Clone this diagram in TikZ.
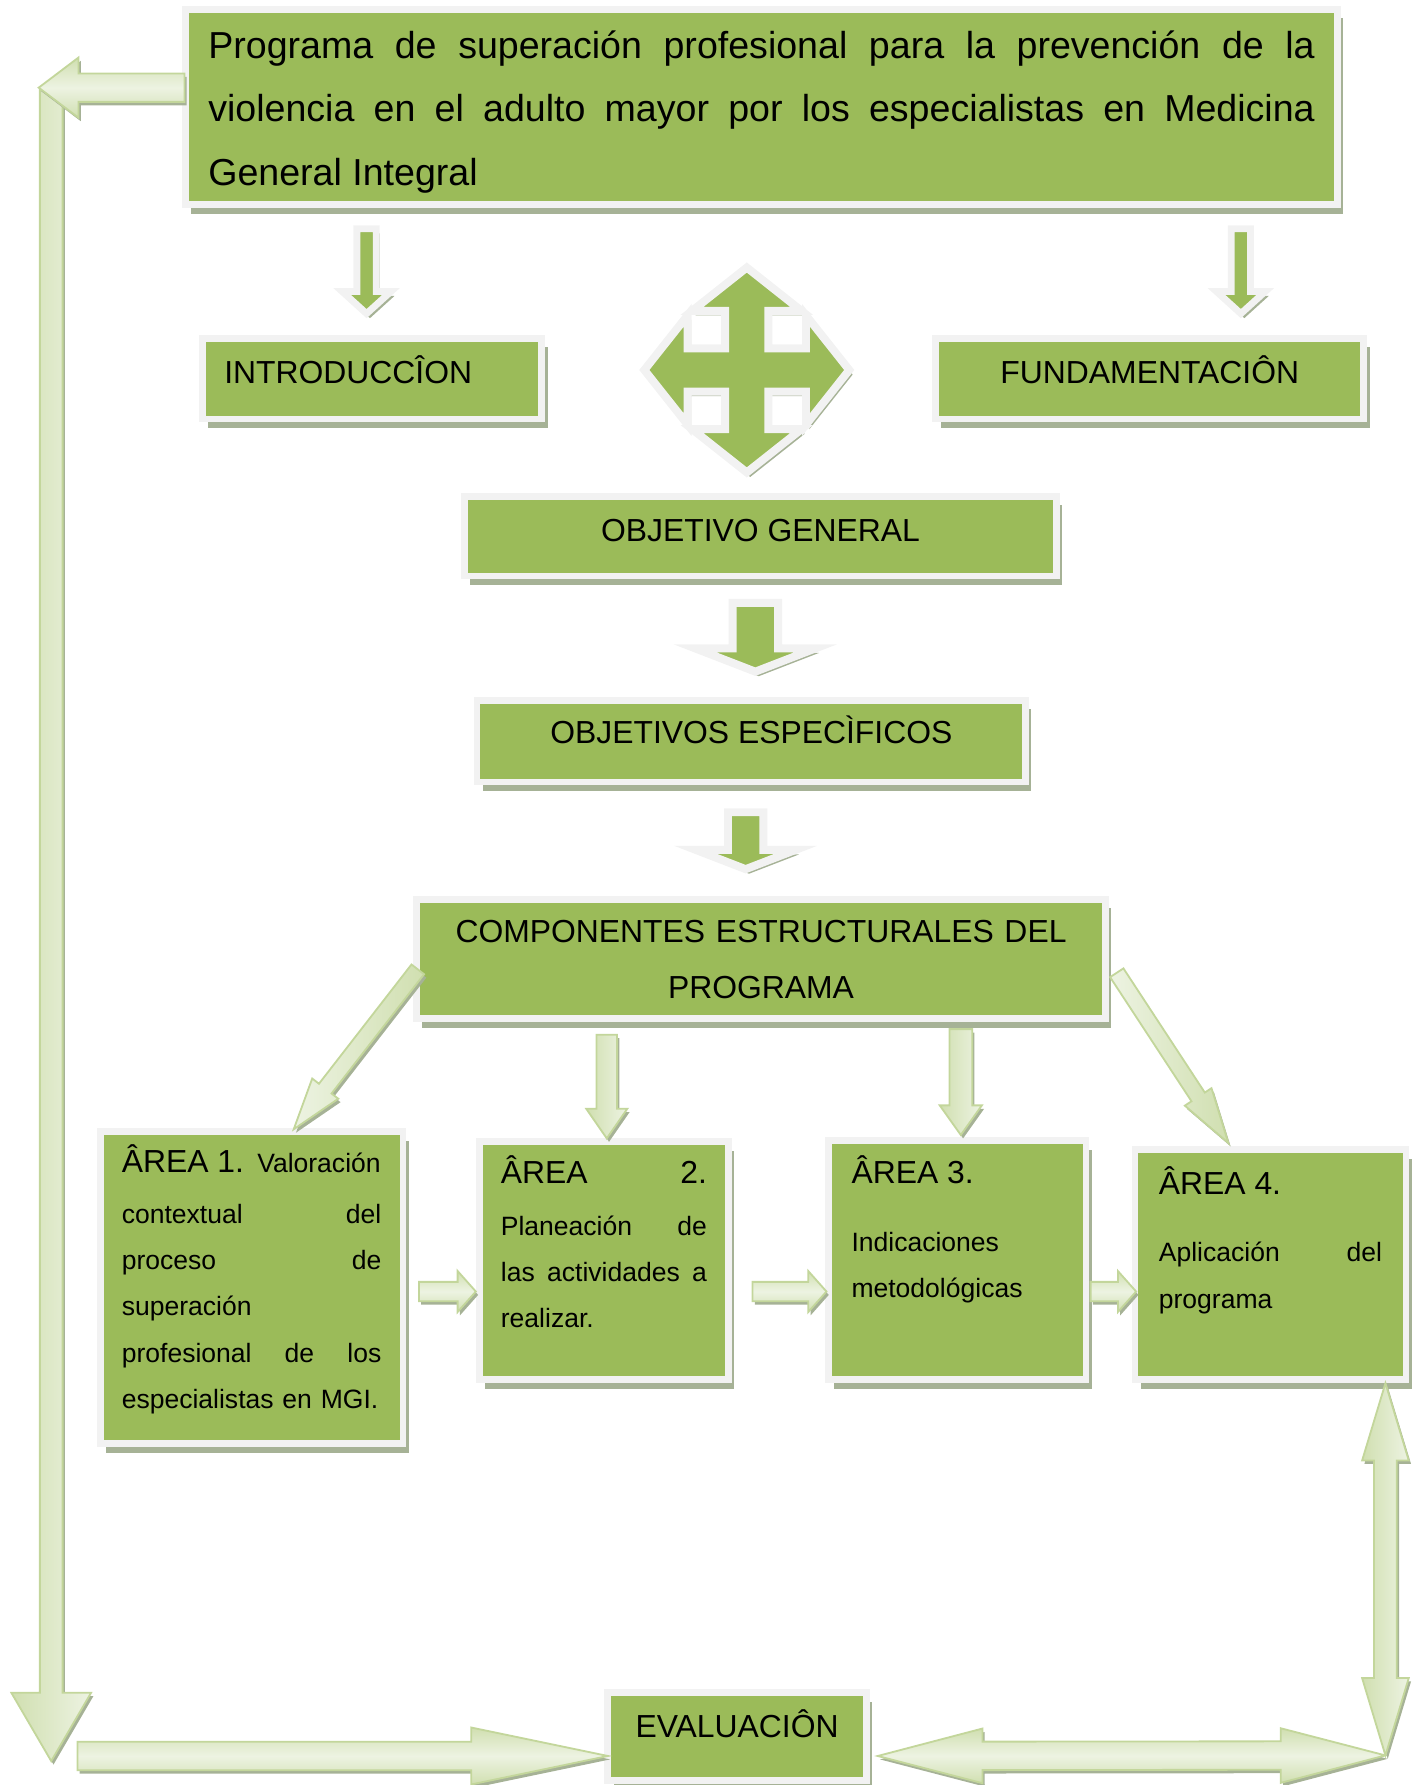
\documentclass[tikz,border=0pt]{standalone}
\usepackage{fontspec}
\setmainfont{Liberation Sans}
\usetikzlibrary{calc,shadows}

\definecolor{verde}{RGB}{155,187,89}
\definecolor{marco}{RGB}{242,242,242}
\definecolor{sombra}{RGB}{166,178,150}
\definecolor{claroA}{RGB}{208,223,176}
\definecolor{claroB}{RGB}{237,243,226}
\definecolor{borde}{RGB}{195,214,155}

\begin{document}
\begin{tikzpicture}[x=0.5pt, y=-0.5pt,
  caja/.style={draw=marco, line width=3pt, fill=verde, inner ysep=0pt,
    font=\fontsize{14}{24.5}\selectfont,
    drop shadow={shadow xshift=2.5pt, shadow yshift=-4pt, fill=sombra, opacity=1}},
  area/.style={caja, align=left, font=\fontsize{11.65}{20.25}\selectfont},
  flechaverde/.style={fill=verde, draw=marco, line width=3.5pt,
    drop shadow={shadow xshift=1.5pt, shadow yshift=-2pt, fill=sombra, opacity=1}},
  flechaclara/.style={draw=borde, line width=0.8pt,
    top color=claroA, bottom color=claroA, middle color=claroB,
    drop shadow={shadow xshift=1pt, shadow yshift=-1.5pt, fill=sombra, opacity=1}},
  flecha/.style n args={3}{to path={let \p1=(\tikztostart), \p2=(\tikztotarget),
    \n1={atan2(\y2-\y1,\x2-\x1)}, \n2={veclen(\x2-\x1,\y2-\y1)-#3} in
    ($(\p1)+(\n1+90:#1)$) -- ($(\p1)+(\n1:\n2)+(\n1+90:#1)$)
    -- ($(\p1)+(\n1:\n2)+(\n1+90:#2)$) -- (\p2)
    -- ($(\p1)+(\n1:\n2)+(\n1-90:#2)$) -- ($(\p1)+(\n1:\n2)+(\n1-90:#1)$)
    -- ($(\p1)+(\n1-90:#1)$) -- cycle}},
  flechadoble/.style n args={3}{to path={let \p1=(\tikztostart), \p2=(\tikztotarget),
    \n1={atan2(\y2-\y1,\x2-\x1)}, \n2={veclen(\x2-\x1,\y2-\y1)-#3} in
    (\p1) -- ($(\p1)+(\n1:#3)+(\n1+90:#2)$) -- ($(\p1)+(\n1:#3)+(\n1+90:#1)$)
    -- ($(\p1)+(\n1:\n2)+(\n1+90:#1)$) -- ($(\p1)+(\n1:\n2)+(\n1+90:#2)$)
    -- (\p2) -- ($(\p1)+(\n1:\n2)+(\n1-90:#2)$) -- ($(\p1)+(\n1:\n2)+(\n1-90:#1)$)
    -- ($(\p1)+(\n1:#3)+(\n1-90:#1)$) -- ($(\p1)+(\n1:#3)+(\n1-90:#2)$) -- cycle}},
  cruz/.style={fill=verde, draw=marco, line width=3.5pt,
    drop shadow={shadow xshift=1.5pt, shadow yshift=-2pt, fill=sombra, opacity=1}}]
\useasboundingbox (0, 0) rectangle (1242, 1568);

% cajas
\node [caja, font=\fontsize{16.5}{28}\selectfont, minimum width=506pt, text width=486pt,
  inner xsep=10pt, align=justify, text height=21.5pt, text depth=64.5pt] (titulo) at (669, 94)
  {Programa de superación profesional para la prevención de la\linebreak
   violencia en el adulto mayor por los especialistas en Medicina\linebreak
   General Integral};
\node [caja, minimum width=149pt, text width=130pt, inner xsep=9.5pt, align=left,
  text height=20pt, text depth=15.5pt] (intro) at (327, 332.5) {INTRODUCCÎON};
\node [caja, minimum width=188pt, text height=20pt, text depth=15.5pt] (fund) at (1010, 332.5) {FUNDAMENTACIÔN};
\node [caja, minimum width=260pt, text height=20pt, text depth=15pt] (objgen) at (668, 471) {OBJETIVO GENERAL};
\node [caja, minimum width=241pt, text height=19pt, text depth=17pt] (objesp) at (660, 651) {OBJETIVOS ESPECÌFICOS};
\node [caja, minimum width=302.5pt, text width=290pt, align=center,
  text height=19pt, text depth=33.5pt] (comp) at (668.5, 842.5)
  {COMPONENTES ESTRUCTURALES DEL\\ PROGRAMA};
\node [area, minimum width=133pt, text width=114pt, inner xsep=9.5pt,
  text height=18pt, text depth=119pt] (area1) at (221, 1131)
  {{\fontsize{14}{20}\selectfont ÂREA 1.} Valoración\\[2.25pt]
   contextual\hfill del\\ proceso\hfill de\\ superación\\
   profesional\hfill de\hfill los\\ especialistas en MGI.};
\node [area, minimum width=109.5pt, text width=90.5pt, inner xsep=9.5pt,
  text height=18.5pt, text depth=86pt] (area2) at (530.5, 1107.5)
  {{\fontsize{14}{20}\selectfont ÂREA\hfill 2.}\\[2.5pt]
   Planeación\hfill de\\ las\hfill actividades\hfill a\\ realizar.};
\node [area, minimum width=113pt, text width=93pt, inner xsep=10pt,
  text height=19pt, text depth=86pt] (area3) at (841, 1107)
  {{\fontsize{14}{20}\selectfont ÂREA 3.}\\[9.5pt] Indicaciones\\ metodológicas};
\node [area, minimum width=119pt, text width=98pt, inner xsep=10.5pt,
  text height=19.5pt, text depth=81.5pt] (area4) at (1116, 1111)
  {{\fontsize{14}{20}\selectfont ÂREA 4.}\\[9.5pt] Aplicación\hfill del\\ programa};
\node [caja, minimum width=113.5pt, text height=19.5pt, text depth=19pt] (eval) at (647.5, 1525.5) {EVALUACIÔN};

% cruz central
\coordinate (centro) at (656, 325);
\draw [cruz, shift={(centro)}] (-19, -52) -- (-48, -52) -- (0, -90) -- (48, -52) -- (19, -52)
  -- (19, -19) -- (52, -19) -- (52, -48) -- (90, 0) -- (52, 48) -- (52, 19) -- (19, 19)
  -- (19, 52) -- (48, 52) -- (0, 90) -- (-48, 52) -- (-19, 52) -- (-19, 19) -- (-52, 19)
  -- (-52, 48) -- (-90, 0) -- (-52, -48) -- (-52, -19) -- (-19, -19) -- cycle;

% flechas verdes
\draw [flechaverde, line width=3pt, flecha={4.25pt}{10.75pt}{9.75pt}]
  ($(intro.north |- titulo.south)+(-5, 18)$) to ($(intro.north)+(-5, -18.5)$);
\draw [flechaverde, line width=3pt, flecha={4.25pt}{10.75pt}{9.75pt}]
  ($(fund.north |- titulo.south)+(80, 18)$) to ($(fund.north)+(80, -18.5)$);
\draw [flechaverde, flecha={10pt}{26.5pt}{10.25pt}]
  ($(objgen.south)+(-4.5, 20.5)$) to ($(objesp.north)+(3.5, -22)$);
\draw [flechaverde, flecha={7.75pt}{22pt}{8.5pt}]
  ($(objesp.south)+(-5, 23.5)$) to ($(comp.north)+(-13.5, -23.5)$);

% flechas claras
\draw [flechaclara, left color=claroB, right color=claroA, flecha={3.5pt}{7.25pt}{22.5pt}]
  ($(comp.west)+(4, 9)$) to ($(area1.north)+(37, 1)$);
\draw [flechaclara, left color=claroB, right color=claroA, flecha={3.5pt}{7pt}{24pt}]
  ($(comp.east)+(7, 12)$) to ($(area4.north)+(-37, -3)$);
\draw [flechaclara, left color=claroA, right color=claroB, flecha={4.5pt}{9pt}{13pt}]
  ($(area2.north |- comp.south)+(2.5, 11)$) to ($(area2.north)+(2.5, 0)$);
\draw [flechaclara, left color=claroA, right color=claroB, flecha={5pt}{9.25pt}{13pt}]
  ($(area3.north |- comp.south)+(3, 6)$) to ($(area3.north)+(3, -2)$);
\draw [flechaclara, flecha={4.25pt}{9pt}{8pt}]
  ($(area1.east)+(11, 3.5)$) to ($(area2.west)+(0, 27)$);
\draw [flechaclara, flecha={4.25pt}{9pt}{8pt}]
  ($(area2.east)+(18, 27)$) to ($(area3.west)+(1, 27.5)$);
\draw [flechaclara, flecha={4.25pt}{9pt}{8pt}]
  ($(area3.east)+(1, 27.5)$) to ($(area4.west)+(4, 23.5)$);

% retorno y evaluacion
\coordinate (esquina) at (45, 77);
\coordinate (retorno) at (34, 77);
\coordinate (abajo) at (45, 1547);
\coordinate (base) at (68, 1542.5);
\coordinate (esquinader) at (1217, 1542);
\draw [flechaclara, left color=claroA, right color=claroB, flecha={5pt}{17.5pt}{30pt}]
  (esquina) to (abajo);
\draw [flechaclara, flecha={6.25pt}{13.25pt}{17.5pt}]
  ($(titulo.west)+(2, -17)$) to (retorno);
\draw [flechaclara, flecha={6.25pt}{12.5pt}{60pt}]
  (base) to ($(eval.west)+(3, 17)$);
\draw [flechaclara, flechadoble={6.25pt}{12pt}{46pt}]
  ($(eval.east)+(7, 17)$) to (esquinader);
\draw [flechaclara, left color=claroA, right color=claroB, flechadoble={5pt}{10.25pt}{34pt}]
  ($(area4.south)+(101, 0)$) to (esquinader);
\end{tikzpicture}
\end{document}
